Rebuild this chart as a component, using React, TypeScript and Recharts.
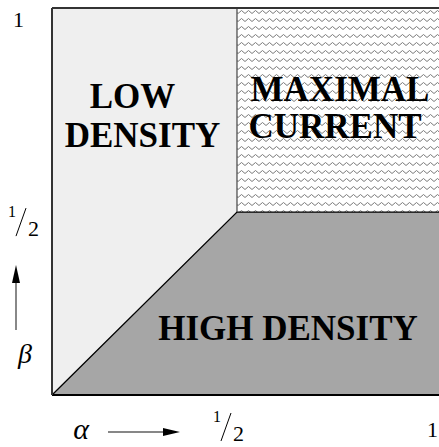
import React from 'react';
import {
  ComposedChart,
  Area,
  XAxis,
  YAxis,
  CartesianGrid,
  ReferenceArea,
  ReferenceLine,
} from 'recharts';

// axis extents (the picture is cropped a little past alpha = 1)
const ALPHA_MAX = 1.046;
const BETA_MAX = 1.058;

// boundary of the high density phase: diagonal alpha = beta, then beta = 1/2
const boundaryAlpha = [0, 0.5, ALPHA_MAX];
const boundaryBeta = [0, 0.5, 0.5];

const alphaTicks = [0.5, 1];
const betaTicks = [0.5, 1];

const lowDensityLines = ['LOW', 'DENSITY'];
const maxCurrentLines = ['MAXIMAL', 'CURRENT'];
const highDensityLines = ['HIGH DENSITY'];

const chartData = boundaryAlpha.map((a, i) => ({ alpha: a, beta: boundaryBeta[i] }));

const SERIF = '"Liberation Serif", "Times New Roman", serif';

// "1/2" drawn as a raised one, a slash and a lowered two
const Half = ({ x, y }: { x: number; y: number }) => (
  <g>
    <text x={x} y={y} fontFamily={SERIF} fontSize={16} fill="#000">1</text>
    <line x1={x + 8} y1={y + 19} x2={x + 18} y2={y - 9} stroke="#000" strokeWidth={1} />
    <text x={x + 20} y={y + 19} fontFamily={SERIF} fontSize={22} fill="#000">2</text>
  </g>
);

const AlphaTick = (props: any) => {
  const { x, y, payload } = props;
  if (payload.value === 0.5) return <Half x={x - 24} y={y + 27} />;
  return (
    <text x={x + 5} y={y + 42} fontFamily={SERIF} fontSize={22} fill="#000">1</text>
  );
};

const BetaTick = (props: any) => {
  const { x, y, payload } = props;
  if (payload.value === 0.5) return <Half x={x - 44} y={y + 5} />;
  return (
    <text x={x - 39} y={y - 2} fontFamily={SERIF} fontSize={22} fill="#000">1</text>
  );
};

const AlphaLabel = (props: any) => {
  const vb = props.viewBox || { x: 52, y: 395 };
  const ay = vb.y + 37;
  return (
    <g>
      <text x={vb.x + 29} y={vb.y + 44} textAnchor="middle" fontFamily={SERIF} fontStyle="italic" fontSize={30} fill="#000">α</text>
      <line x1={vb.x + 56} y1={ay} x2={vb.x + 113} y2={ay} stroke="#111" strokeWidth={1.2} />
      <polygon points={`${vb.x + 111},${ay - 4} ${vb.x + 128},${ay} ${vb.x + 111},${ay + 4}`} fill="#000" />
    </g>
  );
};

const BetaLabel = (props: any) => {
  const vb = props.viewBox || { x: 0, y: 8, width: 52, height: 387 };
  const bottom = vb.y + vb.height;
  const ax = vb.x + 16;
  return (
    <g>
      <line x1={ax} y1={bottom - 65} x2={ax} y2={bottom - 113} stroke="#888" strokeWidth={2} />
      <polygon points={`${ax - 4},${bottom - 112} ${ax},${bottom - 130} ${ax + 4},${bottom - 112}`} fill="#000" />
      <text x={vb.x + 25} y={bottom - 32} textAnchor="middle" fontFamily={SERIF} fontStyle="italic" fontSize={28} fill="#000">β</text>
    </g>
  );
};

// region names, each line shifted from the centre of its area
const RegionLabel = (props: any) => {
  const { viewBox, lines, dx, top, gap } = props;
  if (!viewBox) return null;
  const cx = viewBox.x + viewBox.width / 2;
  return (
    <g>
      {lines.map((line: string, i: number) => (
        <text
          key={line}
          x={cx + dx[i]}
          y={viewBox.y + top + i * gap}
          textAnchor="middle"
          fontFamily={SERIF}
          fontWeight="bold"
          fontSize={35}
          fill="#000"
        >
          {line}
        </text>
      ))}
    </g>
  );
};

export default function App() {
  return (
    <div style={{ position: 'absolute', left: 0, top: 0 }}>
      <svg width={0} height={0} style={{ position: 'absolute' }}>
        <defs>
          <pattern id="zigzag" width={7} height={8} patternUnits="userSpaceOnUse">
            <rect width={7} height={8} fill="#fff" />
            <path d="M0 5.5 L3.5 2.5 L7 5.5" stroke="#7a7a7a" strokeWidth={1} fill="none" />
          </pattern>
        </defs>
      </svg>
      <ComposedChart
        width={439}
        height={447}
        data={chartData}
        margin={{ top: 8, right: 0, bottom: 0, left: 0 }}
      >
        <CartesianGrid horizontal={false} vertical={false} fill="#efefef" fillOpacity={1} />
        <XAxis
          type="number"
          dataKey="alpha"
          domain={[0, ALPHA_MAX]}
          ticks={alphaTicks}
          interval={0}
          height={52}
          tickSize={0}
          tickMargin={0}
          tickLine={false}
          axisLine={{ stroke: '#000', strokeWidth: 2 }}
          tick={<AlphaTick />}
          label={<AlphaLabel />}
        />
        <YAxis
          type="number"
          domain={[0, BETA_MAX]}
          ticks={betaTicks}
          interval={0}
          width={52}
          tickSize={0}
          tickMargin={0}
          tickLine={false}
          axisLine={{ stroke: '#333', strokeWidth: 2 }}
          tick={<BetaTick />}
          label={<BetaLabel />}
        />
        <ReferenceArea
          x1={0.5}
          x2={ALPHA_MAX}
          y1={0.5}
          y2={BETA_MAX}
          fill="url(#zigzag)"
          fillOpacity={1}
          stroke="none"
          label={<RegionLabel lines={maxCurrentLines} dx={[2, -3]} top={93} gap={37} />}
        />
        <ReferenceArea
          x1={0}
          x2={0.5}
          y1={0.5}
          y2={BETA_MAX}
          fillOpacity={0}
          stroke="none"
          label={<RegionLabel lines={lowDensityLines} dx={[-12, -2]} top={100} gap={39} />}
        />
        <Area
          type="linear"
          dataKey="beta"
          baseValue={0}
          fill="#a6a6a6"
          fillOpacity={1}
          stroke="#000"
          strokeWidth={1.3}
          dot={false}
          activeDot={false}
          isAnimationActive={false}
        />
        <ReferenceArea
          x1={0.5}
          x2={ALPHA_MAX}
          y1={0}
          y2={0.5}
          fillOpacity={0}
          stroke="none"
          label={<RegionLabel lines={highDensityLines} dx={[-50]} top={128} gap={0} />}
        />
        <ReferenceLine segment={[{ x: 0.5, y: 0.5 }, { x: 0.5, y: BETA_MAX }]} stroke="#444" strokeWidth={1.2} />
        <ReferenceLine y={BETA_MAX} stroke="#333" strokeWidth={2} />
      </ComposedChart>
    </div>
  );
}
